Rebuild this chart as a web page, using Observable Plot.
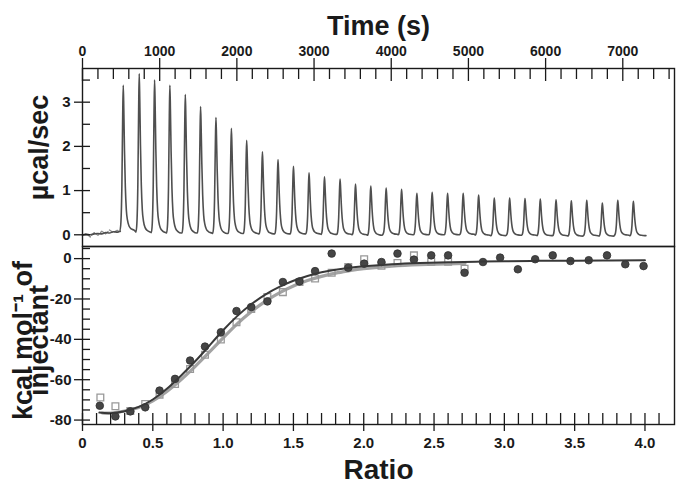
<!DOCTYPE html>
<html><head><meta charset="utf-8">
<script src="https://cdn.jsdelivr.net/npm/d3@7"></script>
<script src="https://cdn.jsdelivr.net/npm/@observablehq/plot@0.6"></script>
<style>
body{margin:0;background:#fff;}
#chart{position:relative;width:684px;height:489px;overflow:hidden;background:#fff;}
#chart svg{position:absolute;left:0;}
</style></head><body><div id="chart"></div>
<script>
// ---------- Top panel: raw thermogram ----------
const timeMajorTicks = [0, 1000, 2000, 3000, 4000, 5000, 6000, 7000];
const timeMinorTicks = d3.range(200, 7700, 200).filter(t => t % 1000 !== 0);
const powerMajorTicks = [0, 1, 2, 3];
const powerMinorTicks = [0.5, 1.5, 2.5, 3.5];

// pre-injection baseline (solid and dashed traces)
const preTime   = [0, 50, 100, 150, 200, 250, 300, 350, 400, 450, 490];
const preSolid  = [0.0, 0.01, 0.0, 0.02, 0.03, 0.02, 0.05, 0.04, 0.07, 0.06, 0.08];
const preDashed = [-0.02, 0.03, -0.05, 0.05, -0.01, 0.08, 0.02, 0.11, 0.05, 0.1, 0.07];

// peak times (s) and peak heights (µcal/sec)
const peakTime = [528, 735, 934, 1132, 1332, 1530, 1729, 1929, 2127, 2331, 2533, 2733, 2935, 3135, 3337, 3537, 3735,
                  3934, 4134, 4332, 4530, 4730, 4932, 5132, 5335, 5534, 5733, 5931, 6135, 6333, 6533, 6735, 6935, 7137];
const peakHeight = [3.28, 3.58, 3.45, 3.34, 3.13, 2.86, 2.62, 2.38, 2.11, 1.86, 1.68, 1.53, 1.38, 1.30, 1.25, 1.15, 1.11,
                    1.05, 1.03, 0.94, 0.96, 0.94, 0.93, 0.91, 0.85, 0.84, 0.83, 0.83, 0.81, 0.80, 0.80, 0.75, 0.79, 0.78];
const peakBase = [0.10, 0.06, 0.05, 0.04, 0.04, 0.04, 0.03, 0.03, 0.03, 0.02, 0.02, 0.02, 0.02, 0.01, 0.01, 0.0, -0.01,
                  0.01, 0.0, 0.0, 0.0, 0.0, 0.01, -0.01, -0.02, -0.01, -0.01, -0.02, -0.02, -0.03, -0.02, -0.03, -0.01, -0.02];
// shape of one injection peak (seconds from peak, fraction of peak height)
const peakShapeDt   = [-42, -30, -18, -7, 0, 7, 16, 27, 40, 55, 75, 105, 145];
const peakShapeFrac = [0, 0.06, 0.3, 0.8, 1, 0.84, 0.55, 0.3, 0.14, 0.07, 0.03, 0.01, 0];
const traceEnd = 7300;

// ---------- Bottom panel: integrated heats ----------
const ratioMajorTicks = [0, 0.5, 1.0, 1.5, 2.0, 2.5, 3.0, 3.5, 4.0];
const ratioMinorTicks = d3.range(1, 42).map(i => i / 10).filter(v => Math.abs(v * 2 - Math.round(v * 2)) > 1e-6);
const heatMajorTicks = [0, -20, -40, -60, -80];
const heatMinorTicks = [5, -5, -10, -15, -25, -30, -35, -45, -50, -55, -65, -70, -75];

const circleRatio = [0.123, 0.234, 0.34, 0.446, 0.548, 0.658, 0.765, 0.871, 0.984, 1.095, 1.2, 1.315, 1.425, 1.543, 1.654, 1.772, 1.89,
                     2.003, 2.126, 2.24, 2.357, 2.48, 2.6, 2.717, 2.848, 2.97, 3.096, 3.219, 3.344, 3.47, 3.6, 3.73, 3.86, 3.99];
const circleHeat  = [-72.9, -78.2, -75.7, -73.7, -65.4, -59.6, -50.5, -43.6, -36.5, -26.0, -24.0, -21.2, -11.6, -11.3, -6.2, 2.5, -4.5,
                     -2.5, -1.7, 2.5, -0.5, 1.6, 1.6, -7.0, -1.7, 0.5, -5.3, -0.3, 1.6, -1.2, -0.8, 1.6, -2.8, -3.7];

const squareRatio = [0.127, 0.234, 0.34, 0.446, 0.548, 0.658, 0.765, 0.871, 0.984, 1.095, 1.2, 1.315, 1.425, 1.543, 1.654, 1.772, 1.89,
                     2.003, 2.126, 2.24, 2.357, 2.48, 2.6, 2.717];
const squareHeat  = [-68.8, -73.2, -75.5, -72.0, -67.4, -62.1, -54.7, -47.6, -40.1, -31.5, -24.9, -19.0, -16.6, -11.6, -9.9, -7.0, -4.2,
                     -0.3, -3.5, -2.2, 1.6, -1.6, -1.6, -5.0];

const fitDarkRatio = [0.12, 0.2, 0.3, 0.4, 0.5, 0.6, 0.7, 0.8, 0.9, 1.0, 1.1, 1.2, 1.3, 1.4, 1.5, 1.6, 1.7, 1.8, 1.9, 2.0, 2.2, 2.4, 2.6, 2.8, 3.0, 3.25, 3.5, 3.75, 4.0];
const fitDarkHeat  = [-76.3, -76.6, -75.6, -73.5, -69.8, -64.5, -58.0, -51.0, -43.3, -35.5, -28.5, -22.6, -17.8, -14.0, -11.0, -8.6, -6.8, -5.5, -4.5, -3.8, -2.8, -2.2, -1.8, -1.5, -1.3, -1.1, -1.0, -0.9, -0.8];
const fitGrayRatio = [0.14, 0.2, 0.3, 0.4, 0.5, 0.6, 0.7, 0.8, 0.9, 1.0, 1.1, 1.2, 1.3, 1.4, 1.5, 1.6, 1.7, 1.8, 1.9, 2.0, 2.2, 2.4, 2.6, 2.72];
const fitGrayHeat  = [-76.5, -76.5, -75.5, -73.8, -70.5, -65.8, -60.0, -53.5, -46.5, -39.3, -32.3, -26.3, -21.2, -17.0, -13.6, -10.9, -8.8, -7.2, -6.0, -5.0, -3.7, -3.0, -2.6, -2.4];

const timeTitle = "Time (s)";
const powerLabel = "µcal/sec";
const heatLabel = "kcal mol\u207B\u00B9 of\ninjectant";
const ratioTitle = "Ratio";

// ---------- build tables ----------
const preDashedData = preTime.map((t, i) => ({t, v: preDashed[i]}));
const traceData = preTime.map((t, i) => ({t, v: preSolid[i]}));
peakTime.forEach((tp, i) => {
  peakShapeDt.forEach((dt, k) => traceData.push({t: tp + dt, v: peakBase[i] + peakHeight[i] * peakShapeFrac[k]}));
});
traceData.push({t: traceEnd, v: peakBase[peakBase.length - 1]});

const circles = circleRatio.map((x, i) => ({x, y: circleHeat[i]}));
const squares = squareRatio.map((x, i) => ({x, y: squareHeat[i]}));
const fitDark = fitDarkRatio.map((x, i) => ({x, y: fitDarkHeat[i]}));
const fitGray = fitGrayRatio.map((x, i) => ({x, y: fitGrayHeat[i]}));

const font = "'Liberation Sans',Arial,Helvetica,sans-serif";
const ink = "#1a1a1a";
const common = {
  width: 684, marginLeft: 82, marginRight: 10,
  style: {fontFamily: font, fontWeight: "bold", fontSize: "14px", color: ink, background: "transparent", overflow: "visible"}
};

const topPlot = Plot.plot({
  ...common,
  height: 246, marginTop: 68, marginBottom: 0,
  x: {domain: [0, 7670], axis: null},
  y: {domain: [-0.265, 3.762], axis: null},
  marks: [
    Plot.line(preDashedData, {x: "t", y: "v", stroke: "#8c8c8c", strokeWidth: 1.3, strokeDasharray: "4,2"}),
    Plot.line(traceData, {x: "t", y: "v", stroke: "#4f4f4f", strokeWidth: 1.6, curve: "monotone-x"}),
    Plot.frame({stroke: ink, strokeWidth: 1.4}),
    Plot.axisX(timeMajorTicks, {anchor: "top", tickSize: 11, tickPadding: 2, label: null, tickFormat: d => String(d), fontSize: 14, strokeWidth: 1.3}),
    Plot.axisX(timeMajorTicks, {anchor: "top", tickSize: 12, dy: 12, fill: "none", label: null, strokeWidth: 1.3}),
    Plot.axisX(timeMinorTicks, {anchor: "top", tickSize: 10, dy: 10, fill: "none", label: null, strokeWidth: 1.3}),
    Plot.axisY(powerMajorTicks, {anchor: "left", tickSize: 8, tickPadding: 4, label: null, tickFormat: d => String(d), fontSize: 15, strokeWidth: 1.3}),
    Plot.axisY(powerMajorTicks, {anchor: "left", tickSize: 8, dx: 8, fill: "none", label: null, strokeWidth: 1.3}),
    Plot.axisY(powerMinorTicks, {anchor: "left", tickSize: 8, dx: 8, fill: "none", label: null, strokeWidth: 1.3}),
    Plot.text([timeTitle], {frameAnchor: "top", dy: -34, lineAnchor: "bottom", textAnchor: "middle", fontSize: 27, fontWeight: "bold", fill: ink}),
    Plot.text([powerLabel], {frameAnchor: "left", dx: -35, dy: -10, rotate: -90, lineAnchor: "bottom", textAnchor: "middle", fontSize: 27, fontWeight: "bold", fill: ink})
  ]
});

const bottomPlot = Plot.plot({
  ...common,
  height: 243, marginTop: 0, marginBottom: 65,
  x: {domain: [0, 4.21], axis: null},
  y: {domain: [-82.2, 6.0], axis: null},
  marks: [
    Plot.line(fitGray, {x: "x", y: "y", stroke: "#a3a3a3", strokeWidth: 3.2, curve: "natural"}),
    Plot.dot(squares, {x: "x", y: "y", symbol: "square", r: 3.8, fill: "none", stroke: "#999", strokeWidth: 1.3}),
    Plot.dot(circles, {x: "x", y: "y", r: 3.8, fill: "#454545", stroke: "#2e2e2e", strokeWidth: 0.8}),
    Plot.line(fitDark, {x: "x", y: "y", stroke: "#383838", strokeWidth: 2, curve: "natural"}),
    Plot.frame({stroke: ink, strokeWidth: 1.4}),
    Plot.axisX(ratioMajorTicks, {anchor: "bottom", tickSize: 7, tickPadding: 6, label: null, tickFormat: d => d === 0 ? "0" : d.toFixed(1), fontSize: 15, strokeWidth: 1.3}),
    Plot.axisX(ratioMajorTicks, {anchor: "bottom", tickSize: 11, dy: -11, fill: "none", label: null, strokeWidth: 1.3}),
    Plot.axisX(ratioMinorTicks, {anchor: "bottom", tickSize: 11, dy: -11, fill: "none", label: null, strokeWidth: 1.3}),
    Plot.axisY(heatMajorTicks, {anchor: "left", tickSize: 8, tickPadding: 3, label: null, tickFormat: d => String(d), fontSize: 15, strokeWidth: 1.3}),
    Plot.axisY(heatMajorTicks, {anchor: "left", tickSize: 8, dx: 8, fill: "none", label: null, strokeWidth: 1.3}),
    Plot.axisY(heatMinorTicks, {anchor: "left", tickSize: 8, dx: 8, fill: "none", label: null, strokeWidth: 1.3}),
    Plot.text([ratioTitle], {frameAnchor: "bottom", dy: 54, lineAnchor: "bottom", textAnchor: "middle", fontSize: 28, fontWeight: "bold", fill: ink}),
    Plot.text([heatLabel], {frameAnchor: "left", dx: -35, dy: 5, rotate: -90, lineAnchor: "bottom", textAnchor: "middle", lineHeight: 0.58, fontSize: 27, fontWeight: "bold", fill: ink})
  ]
});

const chart = document.getElementById("chart");
topPlot.style.top = "0px";
bottomPlot.style.top = "246px";
chart.appendChild(bottomPlot);
chart.appendChild(topPlot);
</script></body></html>
